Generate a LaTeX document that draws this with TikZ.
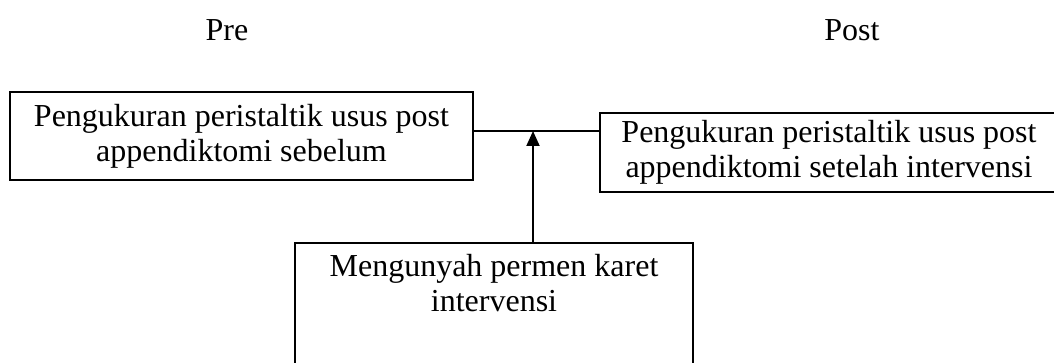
\documentclass[tikz,border=0pt]{standalone}
\usepackage{fontspec}
\setmainfont{Liberation Serif}
\usetikzlibrary{arrows.meta}

\tikzset{
  box/.style={draw, line width=2pt, rectangle, align=center, inner sep=0pt},
  head/.style={inner sep=0pt},
}

\begin{document}
\begin{tikzpicture}[x=1pt, y=-1pt, line width=2pt,
  font=\fontsize{32}{35}\selectfont]

\clip (0,0) rectangle (1054,363);

\node[head] (pre) at (227, 30) {Pre};
\node[head] (post) at (852, 30) {Post};

\node[box, minimum width=463pt, minimum height=88pt] (before) at (241.5, 136)
  {Pengukuran peristaltik usus post\\appendiktomi sebelum};
\node[box, minimum width=458pt, minimum height=79pt] (after) at (829, 152.5)
  {Pengukuran peristaltik usus post\\appendiktomi setelah intervensi};
\node[box, minimum width=398pt, anchor=north, inner ysep=11pt, text depth=90pt] (gum) at (494, 242)
  {Mengunyah permen karet\\intervensi};

\coordinate (joint) at (533, 131);
\draw (before.east |- joint) -- (after.west |- joint);
\draw[-{Triangle[width=13pt, length=15pt]}] (gum.north -| joint) -- (joint);

\end{tikzpicture}
\end{document}
